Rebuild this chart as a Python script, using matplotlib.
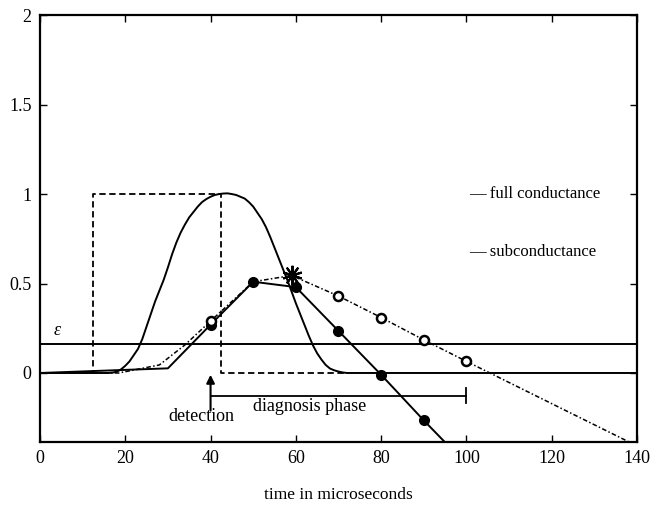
import matplotlib
matplotlib.use("Agg")
import matplotlib.pyplot as plt

# ---- data ----
# full-conductance current pulse (dashed rectangle)
rect_t = [0, 12.5, 12.5, 42.5, 42.5, 72]
rect_v = [0, 0, 1.0, 1.0, 0, 0]

# smooth bell curve (solid)
bell_t = [0, 16, 17, 18, 19, 20, 21, 22, 23, 24, 25, 26, 27, 28, 29, 30, 31, 32, 33, 34,
          35, 36, 37, 38, 39, 40, 41, 42, 43, 44, 45, 46, 47, 48, 49, 50, 51, 52, 53,
          54, 55, 56, 57, 58, 59, 60, 61, 62, 63, 64, 65, 66, 67, 68, 69, 70, 71, 72, 140]
bell_v = [0, 0.0, 0.002, 0.007, 0.02, 0.04, 0.065, 0.10, 0.135, 0.19, 0.26, 0.33, 0.40,
          0.46, 0.52, 0.59, 0.665, 0.73, 0.785, 0.83, 0.87, 0.90, 0.93, 0.955, 0.972,
          0.985, 0.995, 1.0, 1.003, 1.004, 1.0, 0.995, 0.985, 0.975, 0.955, 0.93, 0.895,
          0.86, 0.815, 0.76, 0.70, 0.64, 0.58, 0.52, 0.455, 0.39, 0.33, 0.27, 0.21,
          0.155, 0.11, 0.075, 0.045, 0.025, 0.015, 0.008, 0.003, 0.0, 0.0]

# estimate with filled dots (solid)
est_t = [0, 30, 40, 50, 60, 70, 80, 90, 95.5]
est_v = [0, 0.026, 0.27, 0.51, 0.48, 0.235, -0.01, -0.265, -0.40]
dot_t = [40, 50, 60, 70, 80, 90]
dot_v = [0.27, 0.51, 0.48, 0.235, -0.01, -0.265]

# estimate with open circles (dash-dot)
alt_t = [0, 18.5, 28, 34, 40, 50, 59, 70, 80, 90, 100, 138.5]
alt_v = [0, 0.0, 0.045, 0.157, 0.29, 0.51, 0.545, 0.43, 0.31, 0.185, 0.065, -0.39]
circ_t = [40, 70, 80, 90, 100]
circ_v = [0.29, 0.43, 0.31, 0.185, 0.065]
star_t = [59]
star_v = [0.545]

eps = 0.16

xticks = [0, 20, 40, 60, 80, 100, 120, 140]
yticks = [0, 0.5, 1, 1.5, 2]
ytick_labels = ["0", "0.5", "1", "1.5", "2"]

plt.rcParams['font.family'] = ['Liberation Serif', 'DejaVu Serif']

fig = plt.figure(figsize=(6.66, 5.05), dpi=100)
ax = fig.add_axes([0.060, 0.125, 0.8965, 0.845])

lw = 1.4
ax.plot(rect_t, rect_v, color='black', lw=1.3, linestyle=(0, (3.5, 2)))
ax.plot(bell_t, bell_v, color='black', lw=lw)
ax.axhline(eps, color='black', lw=lw)
ax.plot(alt_t, alt_v, color='black', lw=1.1, linestyle=(0, (3, 1.5, 1, 1.5)))
ax.plot(est_t, est_v, color='black', lw=lw)
ax.plot(dot_t, dot_v, 'o', color='black', ms=7)
ax.plot(circ_t, circ_v, 'o', mfc='white', mec='black', mew=1.8, ms=6.5)
ax.plot(star_t, star_v, marker=(10, 2, 0), color='black', ms=14, mew=1.5, linestyle='none')
ax.plot(star_t, star_v, marker='*', color='black', ms=8, linestyle='none')

ax.set_xlim(0, 140)
ax.set_ylim(-0.385, 2)
ax.set_xticks(xticks)
ax.set_xticklabels([str(t) for t in xticks])
ax.set_yticks(yticks)
ax.set_yticklabels(ytick_labels)
ax.tick_params(direction='in', length=5, width=1, top=True, right=True,
               labelsize=13, pad=6)
for s in ax.spines.values():
    s.set_linewidth(1.6)

fig.text(0.5075, 1 - 495 / 505, "time in microseconds", fontsize=12.5,
         ha='center', va='center')

# annotations
ax.text(4, 0.24, "ε", fontsize=13, style='italic', ha='center', va='center')
ax.text(100.7, 1.0, "— full conductance", fontsize=12, ha='left', va='center')
ax.text(100.7, 0.675, "— subconductance", fontsize=12, ha='left', va='center')

ax.annotate("", xy=(40, -0.01), xytext=(40, -0.21),
            arrowprops=dict(arrowstyle='-|>', color='black', lw=1.5,
                            mutation_scale=12, shrinkA=0, shrinkB=0))
ax.plot([40, 100], [-0.127, -0.127], color='black', lw=1.3)
ax.plot([100, 100], [-0.085, -0.17], color='black', lw=1.3)
ax.text(30, -0.245, "detection", fontsize=13, ha='left', va='center')
ax.text(50, -0.185, "diagnosis phase", fontsize=13, ha='left', va='center')

fig.savefig("out.png", dpi=100)
